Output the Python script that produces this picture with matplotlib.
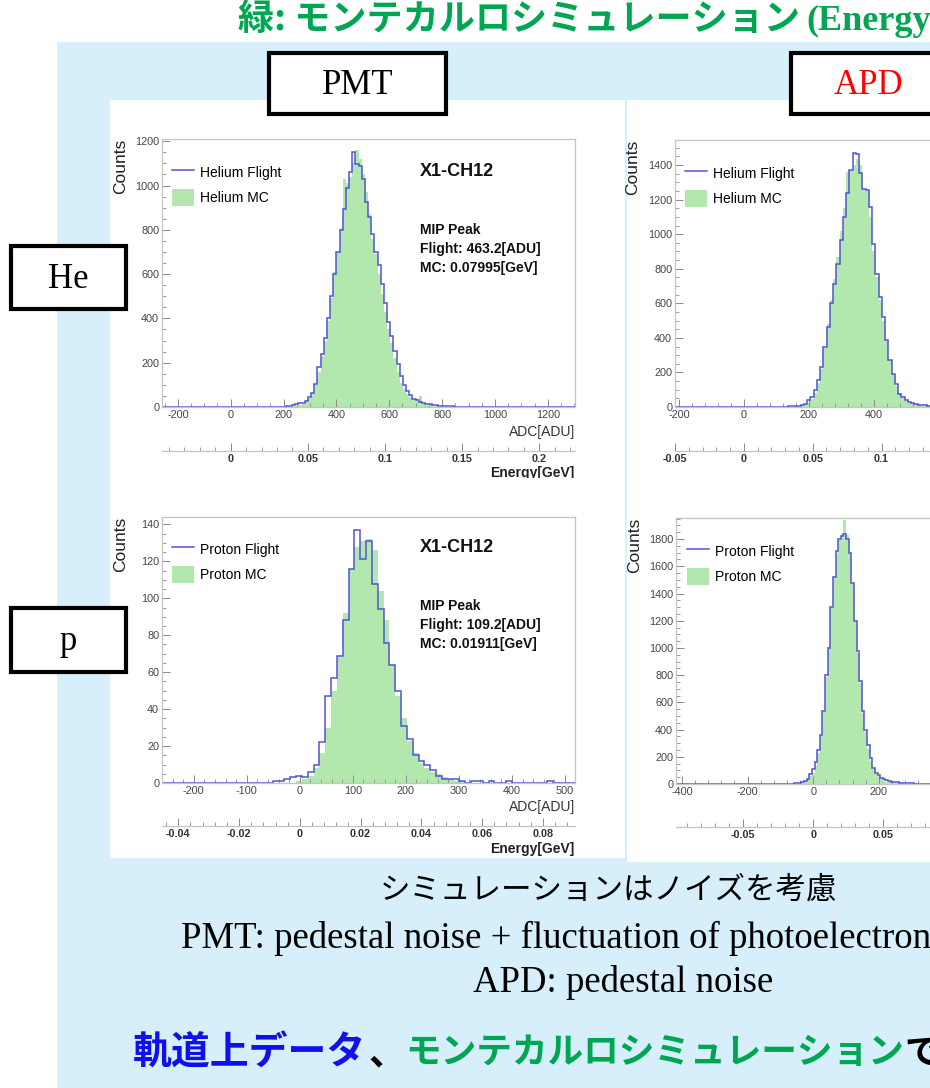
import matplotlib.pyplot as plt
import numpy as np
from matplotlib.patches import Rectangle, Patch
from matplotlib.lines import Line2D
from matplotlib.ticker import MultipleLocator

plt.rcParams['axes.unicode_minus'] = False
plt.rcParams['font.family'] = ['Liberation Sans', 'DejaVu Sans']

W, H = 930, 1088

# ---- histogram data (counts per bin) ----
# Helium, PMT: 12 ADU bins, first bin starts at 196 ADU
he_pmt_start, he_pmt_width = 196, 12
he_pmt_flight = [2, 4, 6, 10, 14, 16, 18, 28, 45, 62, 105, 180, 240, 310, 400,
                 500, 600, 700, 800, 895, 990, 1060, 1150, 1095, 1090, 1030, 925, 860, 780, 700,
                 640, 555, 470, 385, 320, 255, 195, 140, 100, 72, 52, 38, 30, 23, 18,
                 15, 12, 10, 7, 6, 5, 4, 3, 3, 2, 2, 1, 1, 1, 0]
he_pmt_mc = [0, 1, 2, 4, 6, 10, 15, 25, 40, 65, 100, 160, 230, 300, 390,
             490, 610, 700, 810, 1030, 1010, 1040, 1100, 1160, 1120, 1050, 970, 870, 760, 690,
             600, 510, 430, 350, 290, 220, 160, 110, 80, 60, 45, 35, 26, 50, 15,
             10, 7, 5, 3, 2, 1, 0, 0, 0, 0, 0, 0, 0, 0, 0]

# Helium, APD: 10 ADU bins from 105 ADU
he_apd_start, he_apd_width = 105, 10
he_apd_flight = [1, 2, 1, 3, 4, 5, 7, 10, 19, 39, 58, 97, 154, 232, 348, 463, 599, 714,
                 830, 965, 1100, 1236, 1371, 1467, 1462, 1352, 1262, 1255, 1158, 946, 772,
                 637, 521, 386, 270, 193, 135, 77, 55, 42, 30, 24, 17, 13, 11, 9, 7, 5,
                 4, 3, 2, 1]
he_apd_mc = [0, 0, 1, 1, 2, 3, 5, 7, 12, 25, 45, 80, 140, 220, 340, 480, 620, 740,
             870, 1020, 1150, 1361, 1370, 1400, 1435, 1400, 1260, 1250, 1097, 900, 750,
             620, 500, 380, 270, 190, 120, 80, 50, 35, 25, 18, 12, 9, 6, 4, 3, 2,
             1, 1, 0, 0]

# Proton, PMT: 11 ADU bins from -51 ADU
p_pmt_start, p_pmt_width = -51, 11
p_pmt_flight = [1, 1, 2, 3, 4, 3, 6, 10, 22, 47, 57, 69, 88, 116, 137, 121, 131, 108,
                94, 76, 64, 50, 31, 24, 15, 12, 10, 7, 4, 2, 2, 2, 1, 0, 1, 1,
                0, 1, 0, 0, 1, 0, 0, 0, 0, 0, 0, 1, 0, 0, 0, 0]
p_pmt_mc = [0, 0, 0, 0, 1, 2, 4, 8, 16, 30, 50, 68, 92, 116, 128, 131, 132, 126,
            104, 88, 64, 47, 35, 23, 16, 11, 8, 6, 5, 3, 2, 1, 1, 0, 0, 0,
            0, 0, 0, 0, 0, 0, 0, 0, 0, 0, 0, 0, 0, 0, 0, 0]

# Proton, APD: 8 ADU bins from -84 ADU
p_apd_start, p_apd_width = -84, 8
p_apd_flight = [1, 2, 3, 4, 6, 10, 15, 25, 40, 70, 110, 160, 250, 360, 535, 800, 1000,
                1300, 1520, 1710, 1800, 1825, 1840, 1800, 1700, 1480, 1200, 980, 760,
                540, 400, 290, 190, 120, 80, 65, 45, 35, 27, 22, 17, 14, 12, 10, 8,
                7, 6, 5, 4, 3, 3, 2, 2, 1]
p_apd_mc = [0, 0, 1, 2, 4, 7, 12, 22, 40, 60, 80, 135, 230, 350, 530, 790, 1010,
            1290, 1530, 1700, 1790, 1830, 1940, 1830, 1690, 1470, 1190, 960, 740,
            520, 380, 260, 170, 110, 70, 50, 35, 25, 18, 13, 10, 8, 6, 5, 4,
            3, 2, 2, 1, 1, 0, 0, 0, 0]

BLUE = '#5252d6'
GREEN = '#b2e8ae'
FRAME = '#c4c4c4'
TICK = '#8a8a8a'
LABEL = '#454545'
SLIDE_BLUE = '#d6effa'
SLIDE_GREEN = '#00a651'


def fx(x):
    return x / W


def fy(y):
    return 1 - y / H


fig = plt.figure(figsize=(W / 100, H / 100), dpi=100)
fig.patch.set_facecolor('white')

# slide background and white picture panels
fig.add_artist(Rectangle((fx(57), 0), 1, fy(42), transform=fig.transFigure,
                         facecolor=SLIDE_BLUE, edgecolor='none', zorder=-3))
fig.add_artist(Rectangle((fx(110), fy(858)), (625 - 110) / W, (858 - 100) / H,
                         transform=fig.transFigure, facecolor='white', edgecolor='none', zorder=-2))
fig.add_artist(Rectangle((fx(627), fy(862)), (940 - 627) / W, (862 - 100) / H,
                         transform=fig.transFigure, facecolor='white', edgecolor='none', zorder=-2))


def full_counts(lo, hi, start, width, values):
    n_left = int(np.ceil((start - lo) / width))
    first = start - n_left * width
    n_bins = int(np.ceil((hi - first) / width))
    edges = first + width * np.arange(n_bins + 1)
    counts = np.zeros(n_bins)
    counts[n_left:n_left + len(values)] = values
    return edges, counts


def fmt(v):
    return f'{round(v, 6) + 0.0:g}'


panels = [
    dict(box=(162, 139, 575, 407), xlim=(-260, 1303), ylim=(0, 1210), xt=(200, 50), yt=(200, 50),
         k=0.05 / 292, et=(0.05, 0.01), eline=451, leg=(172, 164), name='Helium',
         start=he_pmt_start, width=he_pmt_width, flight=he_pmt_flight, mc=he_pmt_mc,
         counts_x=121, info=('463.2', '0.07995'), info_y=172, adc_y=432, en_y=473),
    dict(box=(675, 140, 1088, 407), xlim=(-212, 1060), ylim=(0, 1545), xt=(200, 40), yt=(200, 50),
         k=0.05 / 212, et=(0.05, 0.01), eline=451, leg=(685, 165), name='Helium',
         start=he_apd_start, width=he_apd_width, flight=he_apd_flight, mc=he_apd_mc,
         counts_x=633, info=None),
    dict(box=(162, 517, 575, 783), xlim=(-260, 519), ylim=(0, 144), xt=(100, 20), yt=(20, 5),
         k=0.02 / 114.6, et=(0.02, 0.004), eline=826, leg=(172, 541), name='Proton',
         start=p_pmt_start, width=p_pmt_width, flight=p_pmt_flight, mc=p_pmt_mc,
         counts_x=121, info=('109.2', '0.01911'), info_y=548, adc_y=807, en_y=849),
    dict(box=(676, 518, 1089, 784), xlim=(-418, 840), ylim=(0, 1955), xt=(200, 40), yt=(200, 50),
         k=0.05 / 213, et=(0.05, 0.01), eline=827, leg=(687, 543), name='Proton',
         start=p_apd_start, width=p_apd_width, flight=p_apd_flight, mc=p_apd_mc,
         counts_x=635, info=None),
]

for p in panels:
    x0, y0, x1, y1 = p['box']
    ax = fig.add_axes([fx(x0), fy(y1), (x1 - x0) / W, (y1 - y0) / H])
    ax.set_facecolor('none')

    edges, fl = full_counts(*p['xlim'], p['start'], p['width'], p['flight'])
    _, mc = full_counts(*p['xlim'], p['start'], p['width'], p['mc'])
    ax.stairs(mc, edges, fill=True, color=GREEN, lw=0, zorder=1)
    ax.stairs(fl, edges, color=BLUE, lw=1.1, baseline=None, zorder=2)

    ax.set_xlim(p['xlim'])
    ax.set_ylim(p['ylim'])
    for s in ax.spines.values():
        s.set_color(FRAME)
        s.set_linewidth(0.9)
    ax.xaxis.set_major_locator(MultipleLocator(p['xt'][0]))
    ax.xaxis.set_minor_locator(MultipleLocator(p['xt'][1]))
    ax.yaxis.set_major_locator(MultipleLocator(p['yt'][0]))
    ax.yaxis.set_minor_locator(MultipleLocator(p['yt'][1]))
    ax.tick_params(which='both', direction='in', top=False, right=False,
                   color=TICK, labelcolor=LABEL, labelsize=7.8, pad=2)
    ax.tick_params(which='major', length=6, width=0.7)
    ax.tick_params(which='minor', length=3, width=0.6)

    # energy axis under the ADC axis
    k = p['k']
    loc = -(p['eline'] - y1) / (y1 - y0)
    sec = ax.secondary_xaxis(loc, functions=(lambda a, k=k: a * k, lambda e, k=k: e / k))
    emaj, emin = p['et']
    elo, ehi = p['xlim'][0] * k, p['xlim'][1] * k
    eticks = np.arange(np.ceil(elo / emaj - 1e-9) * emaj, ehi + 1e-9, emaj)
    sec.set_xticks(eticks, labels=[fmt(v) for v in eticks], fontweight='bold')
    sec.xaxis.set_minor_locator(MultipleLocator(emin))
    sec.tick_params(which='both', direction='in', color=TICK, labelcolor='#333333',
                    labelsize=7.8, pad=2)
    sec.tick_params(which='major', length=6, width=0.7)
    sec.tick_params(which='minor', length=3, width=0.6)
    sec.spines['bottom'].set_color(FRAME)
    sec.spines['bottom'].set_linewidth(0.9)

    handles = [Line2D([], [], color=BLUE, lw=1.1), Patch(facecolor=GREEN, edgecolor='none')]
    ax.legend(handles, [p['name'] + ' Flight', p['name'] + ' MC'], loc='upper left',
              bbox_to_anchor=(fx(p['leg'][0]), fy(p['leg'][1])), bbox_transform=fig.transFigure,
              frameon=False, borderpad=0, borderaxespad=0, handlelength=1.6, handleheight=1.45,
              handletextpad=0.4, labelspacing=0.62, fontsize=10)

    fig.text(fx(p['counts_x']), fy(y0), 'Counts', rotation=90, ha='center', va='top',
             fontsize=12.5, color='#222222')

    if p['info']:
        fig.text(fx(420), fy(p['info_y']), 'X1-CH12', ha='left', va='center',
                 fontsize=13, fontweight='bold', color='#111111')
        fig.text(fx(420), fy(p['info_y'] + 77),
                 f"MIP Peak\nFlight: {p['info'][0]}[ADU]\nMC: {p['info'][1]}[GeV]",
                 ha='left', va='center', fontsize=10, fontweight='bold', color='#111111',
                 linespacing=1.45)
        fig.text(fx(575), fy(p['adc_y']), 'ADC[ADU]', ha='right', va='center',
                 fontsize=10, color='#333333')
        fig.text(fx(574), fy(p['en_y']), 'Energy[GeV]', ha='right', va='center',
                 fontsize=10, fontweight='bold', color='#222222', zorder=3)

# the upper picture is cropped just under its energy label
fig.add_artist(Rectangle((fx(440), fy(500)), (625 - 440) / W, (500 - 478) / H,
                         transform=fig.transFigure, facecolor='white', edgecolor='none', zorder=4))


# label boxes
def label_box(x0, y0, x1, y1, text, color='black'):
    fig.add_artist(Rectangle((fx(x0), fy(y1)), (x1 - x0) / W, (y1 - y0) / H,
                             transform=fig.transFigure, facecolor='white', edgecolor='black',
                             linewidth=3, zorder=5))
    fig.text(fx((x0 + x1) / 2 if x1 < W else 868), fy((y0 + y1) / 2 + 2), text, ha='center',
             va='center', fontsize=25, family='Liberation Serif', color=color, zorder=6)


label_box(269, 53, 446, 114, 'PMT')
label_box(791, 53, 990, 114, 'APD', color='#ff0000')
label_box(11, 246, 126, 309, 'He')
label_box(11, 608, 126, 672, 'p')

# slide texts
cjk = ['Noto Sans CJK JP', 'DejaVu Sans']
fig.text(fx(238), fy(30), '緑: モンテカルロシミュレーション', ha='left', va='baseline',
         fontsize=26, fontweight='bold', family=cjk, color=SLIDE_GREEN)
fig.text(fx(806), fy(30), '(Energy', ha='left', va='baseline', fontsize=26,
         fontweight='bold', family='Liberation Serif', color=SLIDE_GREEN)

fig.text(fx(609), fy(890), 'シミュレーションはノイズを考慮', ha='center', va='center',
         fontsize=22, family=cjk, color='black')
fig.text(fx(181), fy(938), 'PMT: pedestal noise + fluctuation of photoelectrons', ha='left',
         va='center', fontsize=26.5, family='Liberation Serif', color='black')
fig.text(fx(623), fy(982), 'APD: pedestal noise', ha='center', va='center', fontsize=26.5,
         family='Liberation Serif', color='black')

fig.text(fx(133), fy(1053), '軌道上データ', ha='left', va='center', fontsize=28,
         fontweight='bold', family=cjk, color='#1010ee')
fig.text(fx(368), fy(1053), '、', ha='left', va='center', fontsize=27,
         fontweight='bold', family=cjk, color='black')
fig.text(fx(405), fy(1053), 'モンテカルロシミュレーション', ha='left', va='center',
         fontsize=25.7, fontweight='bold', family=cjk, color=SLIDE_GREEN)
fig.text(fx(905), fy(1053), 'で', ha='left', va='center', fontsize=25.7,
         fontweight='bold', family=cjk, color='black')

fig.savefig('out.png', dpi=100)
